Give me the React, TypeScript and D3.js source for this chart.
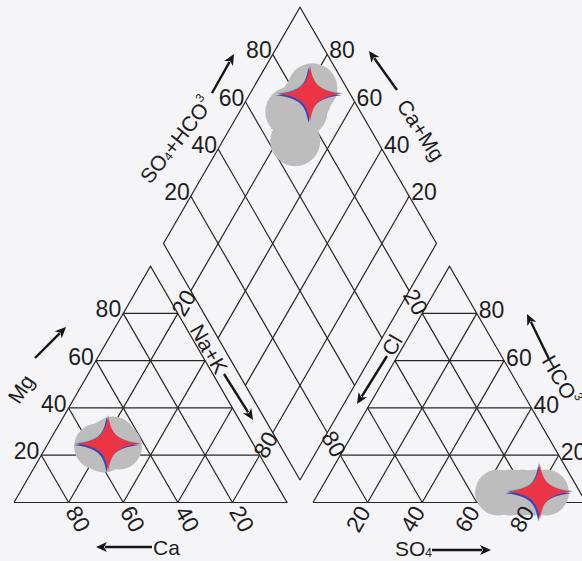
import React from 'react';
import * as d3 from 'd3';

const W = 582;
const H = 561;

// grid ticks (percent) and their labels
const ticks = [20, 40, 60, 80];
const tickLabels = ['20', '40', '60', '80'];
// only the end ticks are labelled on the Na+K and Cl edges
const edgeTicks = [20, 80];

// cation samples (percent of meq): Mg and Na+K (Ca = 100 - Mg - NaK)
const cationMg = [23.7, 23.7, 26.6, 22.4, 25.4];
const cationNaK = [26.6, 18.6, 23.0, 21.8, 21.7];
// anion samples (percent of meq): SO4 and HCO3 (Cl = 100 - SO4 - HCO3)
const anionSO4 = [65.7, 70.1, 74.5, 78.9, 83.2];
const anionHCO3 = [4.2, 4.2, 4.2, 4.2, 4.2];
// mean composition (star)
const meanMg = [25.0];
const meanNaK = [22.0];
const meanSO4 = [80.8];
const meanHCO3 = [4.6];

const S3 = Math.sqrt(3) / 2;
const side = 273;
const baseY = 502.5;
const leftX0 = 14;
const gap = 26;
const rightX0 = leftX0 + side + gap;

const xL = d3.scaleLinear().domain([0, 100]).range([leftX0, leftX0 + side]);
const xR = d3.scaleLinear().domain([0, 100]).range([rightX0, rightX0 + side]);
const yT = d3.scaleLinear().domain([0, 100]).range([baseY, baseY - side * S3]);
const bx = leftX0 + side + gap / 2;
const by = baseY - gap * S3;
const xD = d3.scaleLinear().domain([-100, 100]).range([bx - side / 2, bx + side / 2]);
const yD = d3.scaleLinear().domain([0, 200]).range([by, by - 2 * side * S3]);

type P = [number, number];
const cat = (mg: number, nak: number): P => [xL(nak + mg / 2), yT(mg)];
const an = (so4: number, hco3: number): P => [xR(so4 + hco3 / 2), yT(hco3)];
const dia = (c: number, s: number): P => [xD(s - c), yD(s + c)];

const line = d3.line();
const dir = (deg: number, d: number): P => [Math.cos((deg * Math.PI) / 180) * d, Math.sin((deg * Math.PI) / 180) * d];

const INK = '#262626';
const TXT = '#1e1e1e';
const FONT = "'Liberation Sans', Arial, Helvetica, sans-serif";
const RED = '#ec3444';
const GRAY = '#bdbdbd';
const R_BLOB = 23;

// four-pointed star with concave sides (cubic curves between tips)
function starPath(cx: number, cy: number, rx: number, ry: number) {
  const a = 3, b = 9;
  const pts: string[] = [];
  pts.push(`M${cx},${cy - ry}`);
  pts.push(`C${cx + a},${cy - b} ${cx + b},${cy - a} ${cx + rx},${cy}`);
  pts.push(`C${cx + b},${cy + a} ${cx + a},${cy + b} ${cx},${cy + ry}`);
  pts.push(`C${cx - a},${cy + b} ${cx - b},${cy + a} ${cx - rx},${cy}`);
  pts.push(`C${cx - b},${cy - a} ${cx - a},${cy - b} ${cx},${cy - ry}Z`);
  return pts.join(' ');
}

function Arrow({ from, to }: { from: P; to: P }) {
  const dx = to[0] - from[0];
  const dy = to[1] - from[1];
  const len = Math.hypot(dx, dy);
  const ux = dx / len, uy = dy / len;
  const hl = 11, hw = 5;
  const bxp = to[0] - ux * hl, byp = to[1] - uy * hl;
  const p1: P = [bxp - uy * hw, byp + ux * hw];
  const p2: P = [bxp + uy * hw, byp - ux * hw];
  return (
    <g>
      <line x1={from[0]} y1={from[1]} x2={bxp + ux * 2} y2={byp + uy * 2} stroke="#151515" strokeWidth={2.4} />
      <path d={`M${to[0]},${to[1]} L${p1[0]},${p1[1]} L${bxp + ux * 3},${byp + uy * 3} L${p2[0]},${p2[1]} Z`} fill="#151515" />
    </g>
  );
}

function Star({ c }: { c: P }) {
  return (
    <g>
      <path d={starPath(c[0] - 1, c[1] - 1, 33, 28)} fill="#5fd3d8" />
      <path d={starPath(c[0] - 1.6, c[1] + 1.6, 33, 28)} fill="#3048c0" />
      <path d={starPath(c[0], c[1], 33, 28)} fill={RED} />
    </g>
  );
}

export default function App() {
  const segs: P[][] = [];
  const triL: P[] = [cat(0, 0), cat(100, 0), cat(0, 100), cat(0, 0)];
  const triR: P[] = [an(0, 0), an(0, 100), an(100, 0), an(0, 0)];
  const dmd: P[] = [dia(0, 0), dia(0, 100), dia(100, 100), dia(100, 0), dia(0, 0)];
  ticks.forEach((t) => {
    segs.push([cat(t, 0), cat(t, 100 - t)]);
    segs.push([cat(0, 100 - t), cat(100 - t, 0)]);
    segs.push([cat(0, t), cat(100 - t, t)]);
    segs.push([an(0, t), an(100 - t, t)]);
    segs.push([an(100 - t, 0), an(0, 100 - t)]);
    segs.push([an(t, 0), an(t, 100 - t)]);
    segs.push([dia(t, 0), dia(t, 100)]);
    segs.push([dia(0, t), dia(100, t)]);
  });

  const catPts = cationMg.map((mg, i) => cat(mg, cationNaK[i]));
  const anPts = anionSO4.map((so4, i) => an(so4, anionHCO3[i]));
  const diaPts = cationMg.map((_, i) => dia(100 - cationNaK[i], anionSO4[i] + anionHCO3[i]));
  const starCat = cat(meanMg[0], meanNaK[0]);
  const starAn = an(meanSO4[0], meanHCO3[0]);
  const starDia = dia(100 - meanNaK[0], meanSO4[0] + meanHCO3[0]);

  const tickFont = { fontFamily: FONT, fontSize: 23, fill: TXT } as const;
  const titleFont = { fontFamily: FONT, fontSize: 21, fill: TXT } as const;

  const rotLabel = (p: P, deg: number, dist: number, rot: number, txt: string, key: string) => {
    const o = dir(deg, dist);
    const x = p[0] + o[0], y = p[1] + o[1];
    return (
      <text key={key} x={x} y={y} textAnchor="middle" dominantBaseline="central" transform={`rotate(${rot},${x},${y})`} {...tickFont}>
        {txt}
      </text>
    );
  };

  return (
    <svg width={W} height={H} style={{ position: 'absolute', left: 0, top: 0 }}>
      <rect x={0} y={0} width={W} height={H} fill="#f5f5f7" />
      <g fill="none" stroke={INK} strokeWidth={1.2}>
        {segs.map((s, i) => (
          <path key={i} d={line(s) || ''} />
        ))}
        <path d={line(triL) || ''} />
        <path d={line(triR) || ''} />
        <path d={line(dmd) || ''} />
      </g>

      {/* sample fields */}
      <g fill={GRAY}>
        {catPts.map((p, i) => <circle key={'c' + i} cx={p[0]} cy={p[1]} r={R_BLOB} />)}
        {anPts.map((p, i) => <circle key={'a' + i} cx={p[0]} cy={p[1]} r={R_BLOB} />)}
        {diaPts.map((p, i) => <circle key={'d' + i} cx={p[0]} cy={p[1]} r={R_BLOB + 2} />)}
      </g>
      <Star c={starCat} />
      <Star c={starAn} />
      <Star c={starDia} />

      {/* tick labels */}
      {ticks.map((t, i) => {
        const pMg = cat(t, 0);
        const pHc = an(100 - t, t);
        const pS = dia(100, t);
        const pC = dia(t, 100);
        return (
          <g key={'t' + t}>
            <text x={pMg[0] - 2} y={pMg[1] - 4} textAnchor="end" dominantBaseline="central" {...tickFont}>{tickLabels[i]}</text>
            <text x={pHc[0] + 2} y={pHc[1] - 3} textAnchor="start" dominantBaseline="central" {...tickFont}>{tickLabels[i]}</text>
            <text x={pS[0] - 1} y={pS[1] - 4} textAnchor="end" dominantBaseline="central" {...tickFont}>{tickLabels[i]}</text>
            <text x={pC[0] + 2} y={pC[1] - 4} textAnchor="start" dominantBaseline="central" {...tickFont}>{tickLabels[i]}</text>
            {rotLabel(cat(0, 100 - t), 60, 19, 60, tickLabels[i], 'ca' + t)}
            {rotLabel(an(t, 0), 120, 19, -60, tickLabels[i], 'so' + t)}
          </g>
        );
      })}
      {edgeTicks.map((t) => (
        <g key={'e' + t}>
          {rotLabel(cat(100 - t, t), -60, 12, -60, String(t), 'na' + t)}
          {rotLabel(an(0, 100 - t), -120, 13, 60, String(t), 'cl' + t)}
        </g>
      ))}

      {/* axis titles */}
      <text x={176} y={140} textAnchor="middle" dominantBaseline="central" transform="rotate(-52,176,140)" {...titleFont}>
        SO<tspan fontSize={12} dy={4}>4</tspan><tspan dy={-4}>+HCO</tspan><tspan fontSize={12} dy={-7}>3</tspan>
      </text>
      <Arrow from={[212, 93]} to={[234, 54]} />

      <text x={421} y={130} textAnchor="middle" dominantBaseline="central" transform="rotate(57,421,130)" {...titleFont}>Ca+Mg</text>
      <Arrow from={[397, 90]} to={[369, 51]} />

      <text x={209} y={349} textAnchor="middle" dominantBaseline="central" transform="rotate(60,209,349)" {...titleFont}>Na+K</text>
      <Arrow from={[224, 374]} to={[253, 420]} />

      <text x={392} y={345} textAnchor="middle" dominantBaseline="central" transform="rotate(-60,392,345)" {...titleFont}>Cl</text>
      <Arrow from={[387, 356]} to={[357, 404]} />

      <text x={561} y={380} textAnchor="middle" dominantBaseline="central" transform="rotate(60,561,380)" {...titleFont}>
        HCO<tspan fontSize={12} dy={-7}>3</tspan>
      </text>
      <Arrow from={[549, 359]} to={[527, 314]} />

      <text x={21} y={389} textAnchor="middle" dominantBaseline="central" transform="rotate(-56,21,389)" {...titleFont}>Mg</text>
      <Arrow from={[35, 358]} to={[66, 327]} />

      <text x={153} y={547} textAnchor="start" dominantBaseline="central" {...titleFont}>Ca</text>
      <Arrow from={[152, 547]} to={[96, 547]} />

      <text x={395} y={548} textAnchor="start" dominantBaseline="central" {...titleFont}>
        SO<tspan fontSize={12} dy={5}>4</tspan>
      </text>
      <Arrow from={[432, 550]} to={[491, 550]} />
    </svg>
  );
}
